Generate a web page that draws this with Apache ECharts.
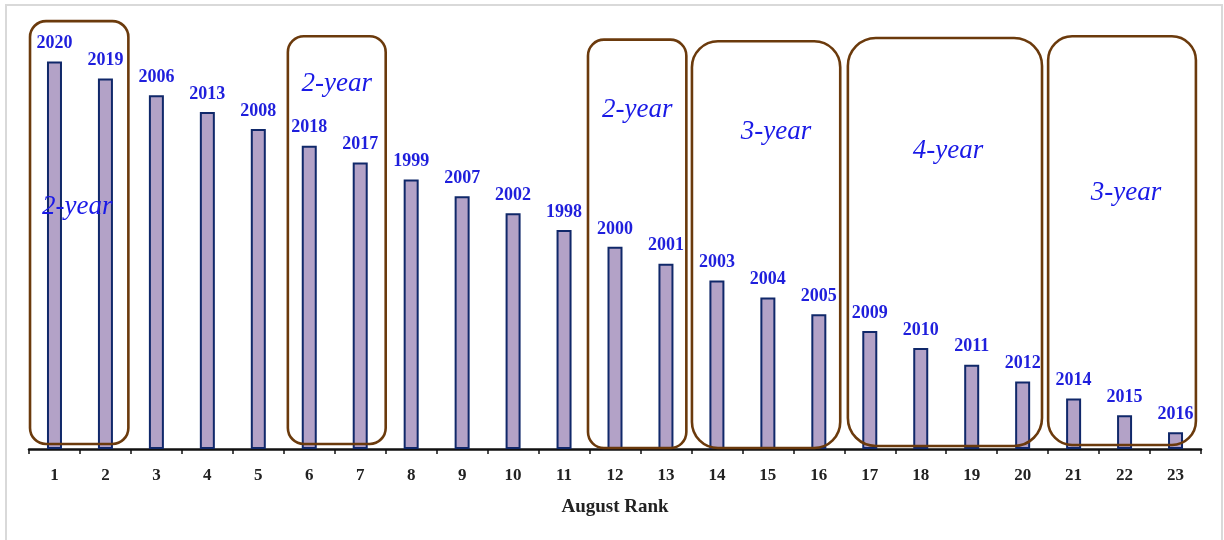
<!DOCTYPE html>
<html>
<head>
<meta charset="utf-8">
<title>August Rank</title>
<script src="https://cdn.jsdelivr.net/npm/echarts@6/dist/echarts.min.js"></script>
<style>
  html, body { margin: 0; padding: 0; background: #ffffff; }
  #chart { width: 1224px; height: 540px; }
</style>
</head>
<body>
<div id="chart"></div>
<script>
// Rank positions along the x axis
const ranks = ['1','2','3','4','5','6','7','8','9','10','11','12','13','14','15','16','17','18','19','20','21','22','23'];
// Year holding each August rank
const years = ['2020','2019','2006','2013','2008','2018','2017','1999','2007','2002','1998','2000','2001','2003','2004','2005','2009','2010','2011','2012','2014','2015','2016'];
// Bar heights (rank score)
const scores = [23, 22, 21, 20, 19, 18, 17, 16, 15, 14, 13, 12, 11, 10, 9, 8, 7, 6, 5, 4, 3, 2, 1];

// Cycle groupings: first and last rank of each group, and its caption
const cycleStart = [1, 6, 12, 14, 17, 21];
const cycleEnd = [2, 7, 13, 16, 20, 23];
const cycleLabels = ['2-year', '2-year', '2-year', '3-year', '4-year', '3-year'];

// Frame geometry for each group box (in band widths / axis units)
const boxLayout = [
  { left: 0.48, right: 0.45, top: 25.4, bottom: 0.3, textY: 14.4, textDx: -2, r: 16 },
  { left: 0.42, right: 0.50, top: 24.5, bottom: 0.3, textY: 21.7, textDx: 0, r: 16 },
  { left: 0.53, right: 0.40, top: 24.3, bottom: 0.06, textY: 20.1, textDx: 0, r: 16 },
  { left: 0.49, right: 0.42, top: 24.2, bottom: 0.06, textY: 18.8, textDx: 10, r: 26 },
  { left: 0.43, right: 0.38, top: 24.4, bottom: 0.18, textY: 17.7, textDx: 3, r: 28 },
  { left: 0.50, right: 0.40, top: 24.5, bottom: 0.24, textY: 15.2, textDx: 4, r: 24 }
];

const serif = '"Liberation Serif", "DejaVu Serif", serif';

const chart = echarts.init(document.getElementById('chart'), null, { renderer: 'canvas' });

const boxData = cycleStart.map((s, i) => [s - 1, cycleEnd[i] - 1, i]);

chart.setOption({
  animation: false,
  backgroundColor: '#ffffff',
  graphic: [{
    type: 'rect',
    shape: { x: 6, y: 5, width: 1216, height: 560 },
    style: { fill: null, stroke: '#d9d9d9', lineWidth: 2 },
    silent: true,
    z: -10
  }],
  grid: { left: 29, right: 23, top: 11, bottom: 91 },
  xAxis: {
    type: 'category',
    data: ranks,
    boundaryGap: true,
    name: 'August Rank',
    nameLocation: 'middle',
    nameGap: 49,
    nameTextStyle: { fontFamily: serif, fontWeight: 'bold', fontSize: 19, color: '#222222' },
    axisLine: { show: true, lineStyle: { color: '#111111', width: 2.5 } },
    axisTick: { show: true, alignWithLabel: false, length: 5, lineStyle: { color: '#111111', width: 1.5 } },
    axisLabel: { fontFamily: serif, fontWeight: 'bold', fontSize: 17, color: '#222222', margin: 18, interval: 0 },
    splitLine: { show: false }
  },
  yAxis: {
    type: 'value',
    min: 0,
    max: 26,
    show: false,
    splitLine: { show: false }
  },
  series: [
    {
      type: 'bar',
      data: scores,
      barWidth: 15,
      itemStyle: { color: '#b3a2c7', borderColor: '#10286a', borderWidth: 2 },
      label: {
        show: true,
        position: 'top',
        distance: 9,
        formatter: (p) => years[p.dataIndex],
        fontFamily: serif,
        fontWeight: 'bold',
        fontSize: 18,
        color: '#1f1fdc'
      },
      z: 2
    },
    {
      type: 'custom',
      data: boxData,
      z: 5,
      renderItem: function (params, api) {
        const s = api.value(0);
        const e = api.value(1);
        const k = api.value(2);
        const lay = boxLayout[k];
        const band = api.size([1, 0])[0];
        const pS = api.coord([s, lay.top]);
        const pE = api.coord([e, lay.bottom]);
        const x0 = pS[0] - lay.left * band;
        const x1 = pE[0] + lay.right * band;
        const y0 = pS[1];
        const y1 = pE[1];
        const ty = api.coord([s, lay.textY])[1];
        return {
          type: 'group',
          children: [
            {
              type: 'rect',
              shape: { x: x0, y: y0, width: x1 - x0, height: y1 - y0, r: lay.r },
              style: { fill: null, stroke: '#6b3a0c', lineWidth: 2.6 }
            },
            {
              type: 'text',
              x: (x0 + x1) / 2 + lay.textDx,
              y: ty,
              style: {
                text: cycleLabels[k],
                fontFamily: serif,
                fontStyle: 'italic',
                fontSize: 27,
                fill: '#1a1ae6',
                align: 'center',
                verticalAlign: 'middle'
              }
            }
          ]
        };
      }
    }
  ]
});
</script>
</body>
</html>
